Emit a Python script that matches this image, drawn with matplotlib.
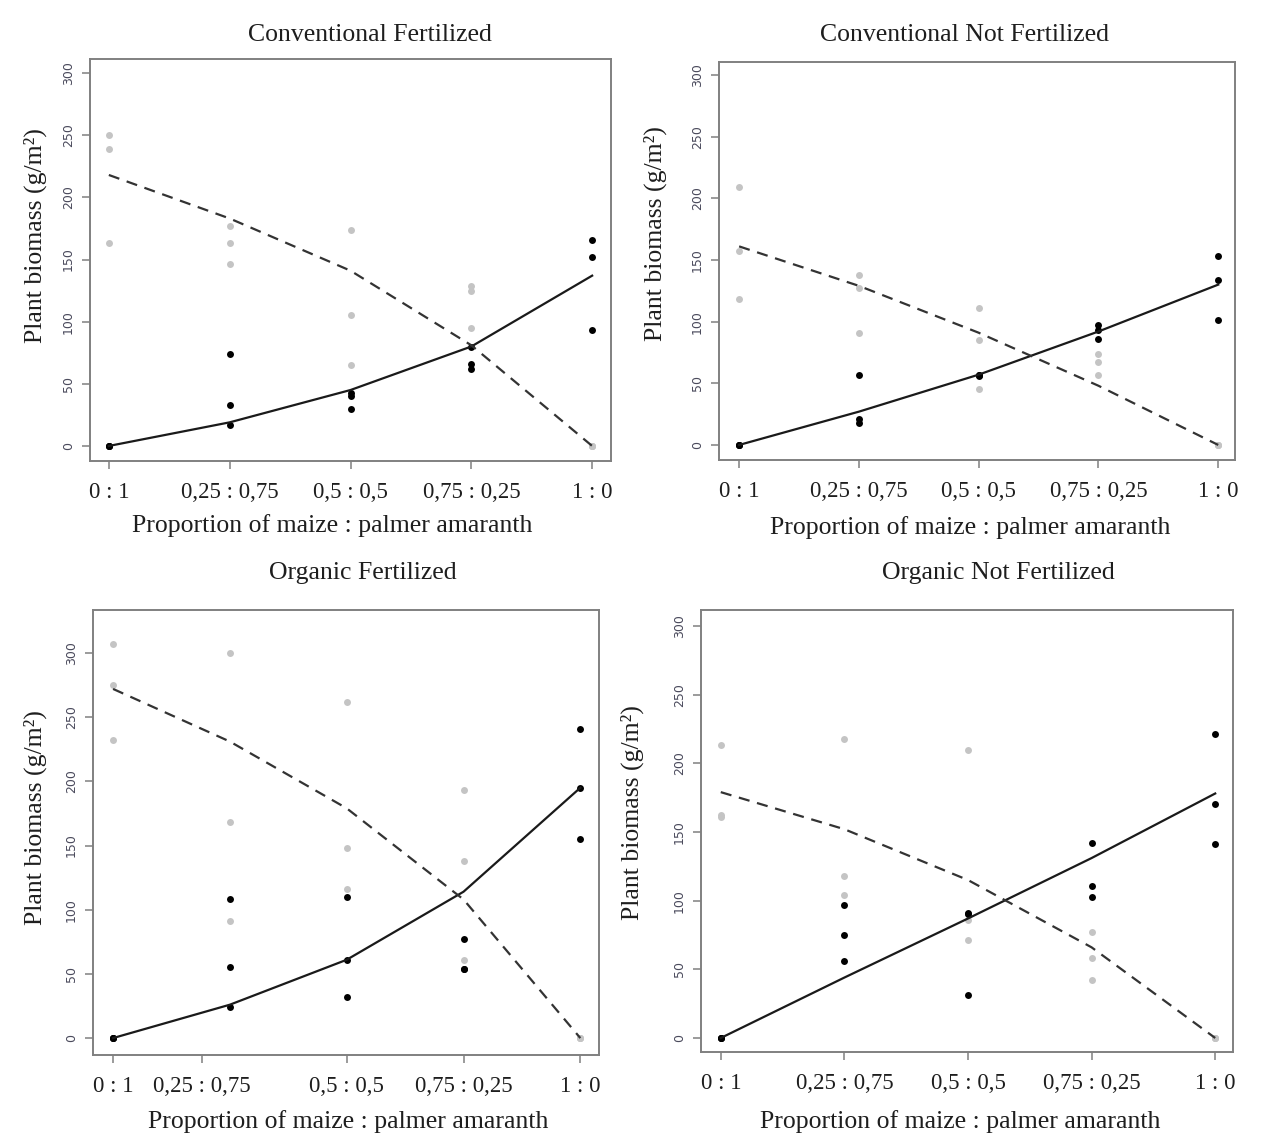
import matplotlib.pyplot as plt

# proporcion de maiz en la mezcla
prop = [0, 0.25, 0.5, 0.75, 1]
etiquetas_x = ["0 : 1", "0,25 : 0,75", "0,5 : 0,5", "0,75 : 0,25", "1 : 0"]
titulos = ["Conventional Fertilized", "Conventional Not Fertilized",
           "Organic Fertilized", "Organic Not Fertilized"]

# biomasa de maiz (puntos negros), tres repeticiones por proporcion
maiz_cf = [[0, 0, 0], [74, 33, 17], [43, 40, 30], [80, 66, 62], [166, 152, 93]]
maiz_cnf = [[0, 0, 0], [57, 21, 18], [57, 57, 56], [97, 93, 86], [153, 134, 101]]
maiz_of = [[0, 0, 0], [108, 55, 24], [110, 61, 32], [77, 54, 54], [241, 195, 155]]
maiz_onf = [[0, 0, 0], [97, 75, 56], [91, 90, 31], [142, 111, 103], [221, 170, 141]]

# biomasa de amaranto (puntos grises)
amar_cf = [[250, 239, 163], [177, 163, 146], [174, 105, 65], [129, 125, 95], [0, 0, 0]]
amar_cnf = [[209, 157, 118], [138, 127, 91], [111, 85, 45], [74, 67, 57], [0, 0, 0]]
amar_of = [[307, 275, 232], [300, 168, 91], [262, 148, 116], [193, 138, 61], [0, 0, 0]]
amar_onf = [[213, 162, 161], [218, 118, 104], [210, 86, 71], [77, 58, 42], [0, 0, 0]]

# curvas ajustadas: maiz (continua) y amaranto (discontinua)
ajuste_maiz = [[0, 19, 45, 80, 137], [0, 27, 57, 92, 130],
               [0, 26, 61, 114, 195], [0, 44, 87, 131, 178]]
ajuste_amar = [[218, 183, 141, 81, 0], [161, 129, 91, 48, 0],
               [272, 231, 179, 108, 0], [179, 152, 115, 66, 0]]

maiz = [maiz_cf, maiz_cnf, maiz_of, maiz_onf]
amar = [amar_cf, amar_cnf, amar_of, amar_onf]

W, H = 1261, 1138
# cajas de los ejes en pixeles: izquierda, arriba, derecha, abajo
cajas = [(90, 59, 611, 461), (719, 62, 1235, 460), (93, 610, 599, 1055), (701, 610, 1233, 1052)]
ylims = [(-12.1, 311.3), (-12.2, 310.5), (-13.2, 333.5), (-10.2, 311.6)]
xlims = [(-0.039, 1.039), (-0.042, 1.035), (-0.043, 1.04), (-0.04, 1.036)]
pos_etiquetas = [prop, prop, [0, 0.19, 0.5, 0.75, 1], prop]
titulo_xy = [(370, 35), (965, 35), (363, 573), (998, 573)]
xlabel_xy = [(332, 526), (970, 528), (348, 1122), (960, 1122)]
ylabel_xy = [(35, 236), (655, 234), (35, 818), (632, 813)]

serif = "Liberation Serif"
gris_marco = "#808080"
texto = "#1e1e1e"

fig = plt.figure(figsize=(W / 100, H / 100), dpi=100)

for i in range(4):
    l, t, r, b = cajas[i]
    ax = fig.add_axes([l / W, 1 - b / H, (r - l) / W, (b - t) / H])

    for k, x in enumerate(prop):
        ax.plot([x] * 3, amar[i][k], 'o', color="#c4c4c4", markersize=5, markeredgewidth=0, zorder=2)
    for k, x in enumerate(prop):
        ax.plot([x] * 3, maiz[i][k], 'o', color="black", markersize=5, markeredgewidth=0, zorder=3)

    ax.plot(prop, ajuste_maiz[i], color="#1a1a1a", linewidth=1.6, zorder=4)
    ax.plot(prop, ajuste_amar[i], color="#333333", linewidth=1.6, dashes=(5, 3.5), zorder=4)

    ax.set_xlim(*xlims[i])
    ax.set_ylim(*ylims[i])
    ax.set_yticks([0, 50, 100, 150, 200, 250, 300])
    ax.set_yticklabels(["0", "50", "100", "150", "200", "250", "300"], rotation=90,
                       va="center", fontsize=9, color="#4a4a5c", family="DejaVu Sans")
    ax.set_xticks(pos_etiquetas[i])
    ax.set_xticklabels(etiquetas_x, fontsize=16.5, family=serif, color=texto)
    ax.tick_params(axis="both", direction="out", length=6, width=1.1, color=gris_marco)
    ax.tick_params(axis="x", pad=9)
    ax.tick_params(axis="y", pad=5)
    for lado in ax.spines.values():
        lado.set_color(gris_marco)
        lado.set_linewidth(1.4)

    tx, ty = titulo_xy[i]
    fig.text(tx / W, 1 - ty / H, titulos[i], ha="center", va="center", fontsize=18.5, family=serif, color=texto)
    lx, ly = xlabel_xy[i]
    fig.text(lx / W, 1 - ly / H, "Proportion of maize : palmer amaranth", ha="center", va="center",
             fontsize=18.5, family=serif, color=texto)
    yx, yy = ylabel_xy[i]
    fig.text(yx / W, 1 - yy / H, "Plant biomass (g/m²)", ha="center", va="center", rotation=90,
             fontsize=18.5, family=serif, color=texto)

fig.savefig("out.png", dpi=100, facecolor="white")
